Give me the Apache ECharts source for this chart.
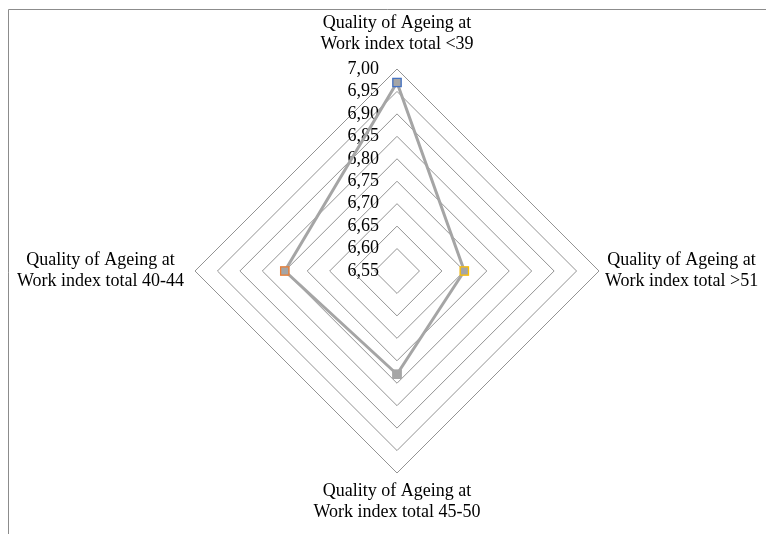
<!DOCTYPE html>
<html>
<head>
<meta charset="utf-8">
<script src="https://cdn.jsdelivr.net/npm/echarts@6/dist/echarts.min.js"></script>
<style>
  html, body { margin: 0; padding: 0; background: #fff; }
  #chart { width: 766px; height: 534px; }
</style>
</head>
<body>
<div id="chart"></div>
<script>
// Group names (one radar axis per group), listed counterclockwise from the top
const groups = [
  'Quality of Ageing at\nWork index total <39',
  'Quality of Ageing at\nWork index total 40-44',
  'Quality of Ageing at\nWork index total 45-50',
  'Quality of Ageing at\nWork index total >51'
];
// Mean index value per group
const values = [6.97, 6.80, 6.78, 6.70];
// Scale of every axis
const axisMin = 6.55;
const axisMax = 7.00;
const axisSteps = 9;

// Marker outline colour per group
const pointColors = ['#4472c4', '#ed7d31', '#a5a5a5', '#ffc000'];
const serif = '"Liberation Serif", "Times New Roman", serif';
// Distance between each axis tip and its name (top, left, bottom, right)
const nameGaps = [14, 11, 8, 6];

const rich = {
  n: { align: 'center', fontFamily: serif, fontSize: 18, lineHeight: 21, color: '#000' }
};
pointColors.forEach(function (c, i) {
  rich['m' + i] = {
    width: 7, height: 7, backgroundColor: '#a5a5a5',
    borderColor: c, borderWidth: 1.3, fontSize: 1, lineHeight: 7
  };
});

const chart = echarts.init(document.getElementById('chart'), null, { renderer: 'canvas' });
chart.setOption({
  animation: false,
  backgroundColor: '#fff',
  graphic: [{
    type: 'rect',
    shape: { x: 8.5, y: 9.5, width: 900, height: 700 },
    style: { fill: 'none', stroke: '#8c8c8c', lineWidth: 1 },
    silent: true
  }],
  radar: {
    center: [397, 271],
    radius: 202,
    startAngle: 90,
    shape: 'polygon',
    splitNumber: axisSteps,
    indicator: groups.map(function (g, i) {
      return {
        name: g,
        min: axisMin,
        max: axisMax,
        nameGap: nameGaps[i],
        axisLabel: { show: i === 0 }
      };
    }),
    axisName: {
      color: '#000',
      fontFamily: serif,
      fontSize: 18,
      lineHeight: 21,
      formatter: function (name) {
        return name.split('\n').map(function (s) { return '{n|' + s + '}'; }).join('\n');
      },
      rich: rich
    },
    axisNameGap: 10,
    axisLine: { show: false },
    axisTick: { show: false },
    axisLabel: {
      show: true,
      color: '#000',
      fontFamily: serif,
      fontSize: 18,
      margin: 18,
      padding: [6, 0, 0, 0],
      formatter: function (v) { return Number(v).toFixed(2).replace('.', ','); }
    },
    splitLine: { lineStyle: { color: '#939393', width: 1 } },
    splitArea: { show: false }
  },
  series: [{
    type: 'radar',
    symbol: 'rect',
    symbolSize: 9,
    lineStyle: { color: '#a5a5a5', width: 3 },
    itemStyle: { color: '#a5a5a5' },
    label: {
      show: true,
      position: 'inside',
      formatter: function (p) {
        const k = values.indexOf(p.value);
        return '{m' + (k < 0 ? 2 : k) + '| }';
      },
      rich: rich
    },
    data: [{ value: values }]
  }]
});
</script>
</body>
</html>
